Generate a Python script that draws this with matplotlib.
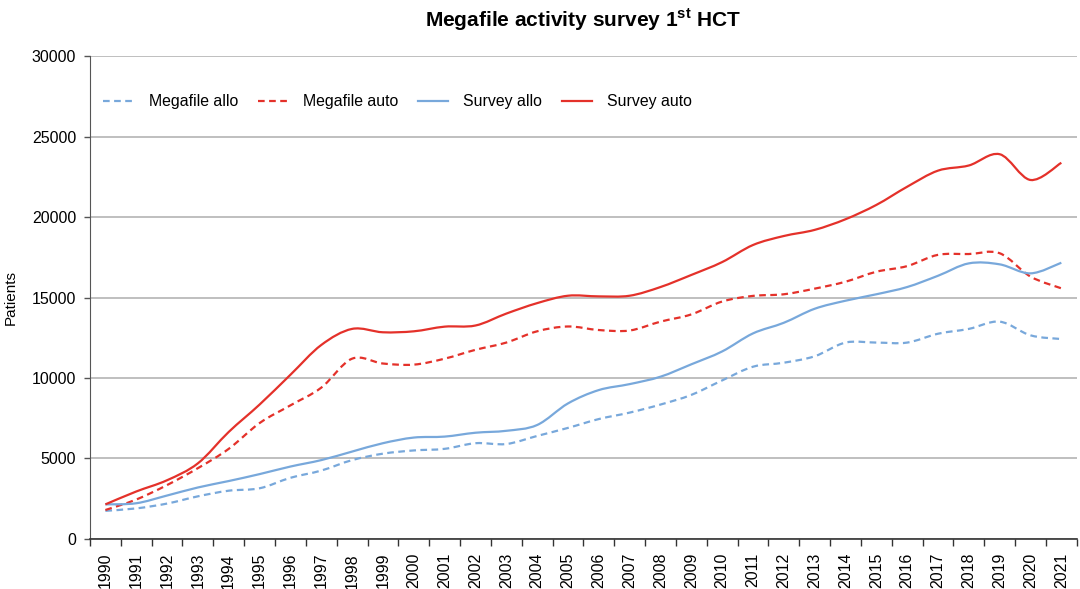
import numpy as np
import matplotlib
matplotlib.use('Agg')
import matplotlib.pyplot as plt
from matplotlib.path import Path
from matplotlib.patches import PathPatch
from matplotlib.lines import Line2D

plt.rcParams['font.family'] = ['Liberation Sans', 'DejaVu Sans']
plt.rcParams['mathtext.fontset'] = 'custom'
plt.rcParams['mathtext.rm'] = 'Liberation Sans'
plt.rcParams['mathtext.bf'] = 'Liberation Sans:bold'

# data
years = [str(y) for y in range(1990, 2022)]
megafile_allo = [1750, 1900, 2200, 2650, 3000, 3150, 3800, 4250, 4900, 5300,
                 5500, 5600, 5950, 5900, 6400, 6900, 7450, 7850, 8350, 8950,
                 9850, 10700, 10950, 11350, 12200, 12200, 12200, 12750, 13050, 13500,
                 12650, 12420]
megafile_auto = [1800, 2450, 3350, 4400, 5600, 7200, 8300, 9400, 11200, 10900,
                 10830, 11200, 11750, 12200, 12900, 13200, 12980, 12950, 13500, 13950,
                 14750, 15100, 15200, 15550, 15980, 16600, 16950, 17650, 17700, 17750,
                 16300, 15570]
survey_allo = [2150, 2220, 2700, 3200, 3600, 4030, 4500, 4900, 5430, 5950,
               6300, 6360, 6600, 6720, 7080, 8420, 9250, 9620, 10080, 10850,
               11650, 12770, 13430, 14300, 14800, 15200, 15650, 16350, 17120, 17060,
               16500, 17160]
survey_auto = [2150, 2950, 3650, 4700, 6650, 8350, 10200, 12050, 13050, 12840,
               12900, 13190, 13260, 14000, 14650, 15110, 15070, 15110, 15650, 16400,
               17200, 18260, 18820, 19200, 19860, 20750, 21880, 22880, 23200, 23900,
               22300, 23370]

red = '#e4312a'
blue = '#78a8db'


def smooth_path(y):
    # Excel style smoothed line: cubic bezier through every point
    x = np.arange(len(y), dtype=float)
    y = np.asarray(y, dtype=float)
    xp = np.concatenate([[x[0]], x, [x[-1]]])
    yp = np.concatenate([[y[0]], y, [y[-1]]])
    verts = [(x[0], y[0])]
    codes = [Path.MOVETO]
    for i in range(len(y) - 1):
        c1 = (x[i] + (xp[i + 2] - xp[i]) / 6, y[i] + (yp[i + 2] - yp[i]) / 6)
        c2 = (x[i + 1] - (xp[i + 3] - xp[i + 1]) / 6, y[i + 1] - (yp[i + 3] - yp[i + 1]) / 6)
        verts += [c1, c2, (x[i + 1], y[i + 1])]
        codes += [Path.CURVE4] * 3
    return Path(verts, codes)


fig = plt.figure(figsize=(10.8, 5.89), dpi=100)
ax = fig.add_axes([0.0833, 0.0849, 0.9137, 0.82])

series = [
    ('Megafile allo', megafile_allo, blue, (0, (3, 2))),
    ('Megafile auto', megafile_auto, red, (0, (3, 2))),
    ('Survey allo', survey_allo, blue, '-'),
    ('Survey auto', survey_auto, red, '-'),
]
handles = []
for label, vals, col, ls in series:
    patch = PathPatch(smooth_path(vals), facecolor='none', edgecolor=col,
                      linewidth=1.6, linestyle=ls, zorder=3)
    ax.add_patch(patch)
    handles.append(Line2D([], [], color=col, linewidth=1.6, linestyle=ls, label=label))

ax.set_xlim(-0.5, len(years) - 0.5)
ax.set_ylim(0, 30000)
ax.set_yticks(range(0, 30001, 5000))
ax.set_yticklabels([str(v) for v in range(0, 30001, 5000)], fontsize=11.5)
ax.yaxis.grid(True, color='#b4b4b4', linewidth=1.2)
ax.set_axisbelow(True)

ax.set_xticks(np.arange(len(years)))
ax.set_xticklabels(years, rotation=90, fontsize=11.5)
ax.tick_params(axis='x', which='major', length=0, pad=10)
ax.set_xticks(np.arange(-0.5, len(years)), minor=True)
ax.tick_params(axis='x', which='minor', length=5, width=1, color='#333333', direction='out')
ax.tick_params(axis='y', length=4, width=1, color='#555555', pad=6)

for s in ['top', 'right']:
    ax.spines[s].set_visible(False)
ax.spines['left'].set_color('#555555')
ax.spines['bottom'].set_color('#333333')
ax.spines['bottom'].set_linewidth(1.2)

ax.set_ylabel('Patients', fontsize=11, labelpad=10)
ax.set_title(r'Megafile activity survey 1$^{\mathbf{st}}$ HCT', fontsize=15,
             fontweight='bold', pad=21)

ax.legend(handles=handles, loc='center left', bbox_to_anchor=(0.0, 0.905),
          ncol=4, frameon=False, fontsize=11.4, handlelength=1.9,
          handletextpad=0.95, columnspacing=1.25, borderaxespad=0.45)

fig.savefig('out.png', dpi=100)
